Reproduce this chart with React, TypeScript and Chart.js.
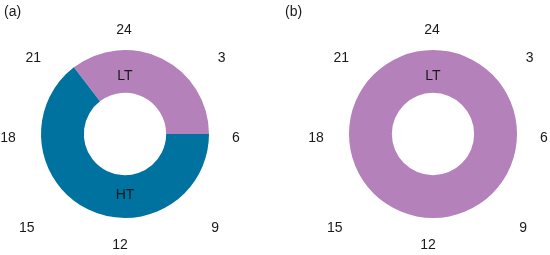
import React, { useEffect, useRef } from "react";
import { Chart, registerables } from "chart.js";

Chart.register(...registerables);

const HOUR_TICKS = ["24", "3", "6", "9", "12", "15", "18", "21"];

const PANEL_A_CATEGORIES = ["LT", "HT"];
const PANEL_A_HOURS = [8.5, 15.5];
const PANEL_A_START_HOUR = 21.5;
const PANEL_A_LABEL_HOURS = [0, 12];

const PANEL_B_CATEGORIES = ["LT"];
const PANEL_B_HOURS = [24];
const PANEL_B_START_HOUR = 0;
const PANEL_B_LABEL_HOURS = [0];

const COLORS: Record<string, string> = { LT: "#b481bb", HT: "#00729f" };
const FONT = '14px "Liberation Sans", Arial, sans-serif';
const TEXT = "#1a1a1a";

// small horizontal nudges of the hour ticks (styling only)
const TICK_NUDGE_X = [-1, 2.5, -3, -4, -5, -4, -3, 2.5];

const clockPlugin = {
  id: "clock",
  afterDraw(chart: any, _args: any, opts: any) {
    const ctx = chart.ctx;
    const arc = chart.getDatasetMeta(0).data[0];
    if (!arc) return;
    const { x, y, outerRadius, innerRadius } = arc.getProps(
      ["x", "y", "outerRadius", "innerRadius"],
      true
    );
    ctx.save();
    ctx.font = FONT;
    ctx.fillStyle = TEXT;
    ctx.textAlign = "center";
    ctx.textBaseline = "middle";
    const rx = outerRadius * 1.357;
    const ry = outerRadius * 1.28;
    HOUR_TICKS.forEach((t, i) => {
      const a = (i * 45 * Math.PI) / 180;
      const s = Math.sin(a);
      const c = -Math.cos(a);
      const px = x + TICK_NUDGE_X[i] + rx * Math.sign(s) * Math.pow(Math.abs(s), 0.55);
      const py =
        y + 4 + 5 * Math.abs(Math.sin(2 * a)) + ry * Math.sign(c) * Math.pow(Math.abs(c), 0.69);
      ctx.fillText(t, px, py);
    });
    const mid = ((outerRadius + innerRadius) / 2) * 0.95;
    (opts.labels as string[]).forEach((lab, i) => {
      const h = opts.labelHours[i];
      const a = (h * 15 * Math.PI) / 180;
      ctx.fillText(lab, x + mid * Math.sin(a), y - mid * Math.cos(a) + 2);
    });
    ctx.textAlign = "left";
    ctx.fillText(opts.panel, opts.panelX, 12);
    ctx.restore();
  },
};

function Donut(props: {
  categories: string[];
  hours: number[];
  startHour: number;
  labelHours: number[];
  panel: string;
  panelX: number;
  padding: { left: number; right: number; top: number; bottom: number };
}) {
  const ref = useRef<HTMLCanvasElement>(null);
  useEffect(() => {
    if (!ref.current) return;
    const rot = props.startHour >= 12 ? (props.startHour - 24) * 15 : props.startHour * 15;
    const chart = new Chart(ref.current, {
      type: "doughnut",
      data: {
        labels: props.categories,
        datasets: [
          {
            data: props.hours,
            backgroundColor: props.categories.map((c) => COLORS[c]),
            borderWidth: 0,
          },
        ],
      },
      options: {
        responsive: false,
        animation: false,
        rotation: rot,
        cutout: "49%",
        layout: { padding: props.padding },
        plugins: {
          legend: { display: false },
          tooltip: { enabled: false },
          clock: {
            labels: props.categories,
            labelHours: props.labelHours,
            panel: props.panel,
            panelX: props.panelX,
          },
        } as any,
      },
      plugins: [clockPlugin],
    });
    return () => chart.destroy();
  }, []);
  return <canvas ref={ref} width={275} height={255} style={{ display: "block" }} />;
}

export default function App() {
  return (
    <div
      style={{
        position: "fixed",
        left: 0,
        top: 0,
        width: 550,
        height: 255,
        display: "flex",
        background: "#fff",
      }}
    >
      <Donut
        categories={PANEL_A_CATEGORIES}
        hours={PANEL_A_HOURS}
        startHour={PANEL_A_START_HOUR}
        labelHours={PANEL_A_LABEL_HOURS}
        panel="(a)"
        panelX={4}
        padding={{ left: 41, right: 66, top: 50, bottom: 37 }}
      />
      <Donut
        categories={PANEL_B_CATEGORIES}
        hours={PANEL_B_HOURS}
        startHour={PANEL_B_START_HOUR}
        labelHours={PANEL_B_LABEL_HOURS}
        panel="(b)"
        panelX={10}
        padding={{ left: 74, right: 33, top: 50, bottom: 37 }}
      />
    </div>
  );
}
